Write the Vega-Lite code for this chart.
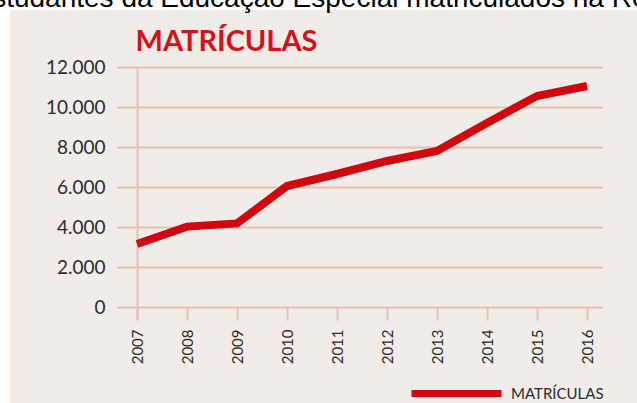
{
  "$schema": "https://vega.github.io/schema/vega-lite/v6.json",
  "width": 627,
  "height": 393,
  "autosize": {"type": "none"},
  "padding": {"left": 10, "top": 10, "right": 0, "bottom": 0},
  "background": "white",
  "config": {
    "view": {"fill": "#f1ece8", "stroke": null},
    "font": "Lato"
  },
  "data": {
    "values": [
      {"ano": 2007, "matriculas": 3150, "serie": "MATRÍCULAS"},
      {"ano": 2008, "matriculas": 4020, "serie": "MATRÍCULAS"},
      {"ano": 2009, "matriculas": 4180, "serie": "MATRÍCULAS"},
      {"ano": 2010, "matriculas": 6050, "serie": "MATRÍCULAS"},
      {"ano": 2011, "matriculas": 6650, "serie": "MATRÍCULAS"},
      {"ano": 2012, "matriculas": 7300, "serie": "MATRÍCULAS"},
      {"ano": 2013, "matriculas": 7800, "serie": "MATRÍCULAS"},
      {"ano": 2014, "matriculas": 9200, "serie": "MATRÍCULAS"},
      {"ano": 2015, "matriculas": 10550, "serie": "MATRÍCULAS"},
      {"ano": 2016, "matriculas": 11050, "serie": "MATRÍCULAS"}
    ]
  },
  "layer": [
    {
      "mark": {"type": "line", "strokeWidth": 8, "strokeCap": "butt", "strokeJoin": "miter"},
      "encoding": {
        "x": {
          "field": "ano",
          "type": "quantitative",
          "scale": {"domain": [2004.46, 2017.0], "nice": false, "zero": false},
          "axis": {
            "orient": "bottom",
            "offset": -96,
            "values": [2007, 2008, 2009, 2010, 2011, 2012, 2013, 2014, 2015, 2016],
            "format": "d",
            "labelAngle": -90,
            "labelAlign": "right",
            "labelBaseline": "middle",
            "labelPadding": 9,
            "labelFont": "Lato",
            "labelFontSize": 15,
            "labelColor": "#2b2b2b",
            "tickSize": 13,
            "tickWidth": 2,
            "tickColor": "#eac0b0",
            "domain": false,
            "grid": false,
            "title": null,
            "zindex": 0
          }
        },
        "y": {
          "field": "matriculas",
          "type": "quantitative",
          "scale": {"domain": [-4800, 14850], "nice": false, "zero": false},
          "axis": {
            "orient": "left",
            "offset": -592,
            "values": [0, 2000, 4000, 6000, 8000, 10000, 12000],
            "labelExpr": "replace(format(datum.value, ','), ',', '.')",
            "labelPadding": 12,
            "labelFont": "Lato",
            "labelFontSize": 19,
            "labelColor": "#2b2b2b",
            "tickSize": 485,
            "tickWidth": 2,
            "tickColor": "#eac0b0",
            "domain": false,
            "grid": false,
            "title": "Estudantes da Educação Especial matriculados na Rede Municipal",
            "titleX": -629,
            "titleY": -4,
            "titleAngle": 0,
            "titleAlign": "left",
            "titleBaseline": "alphabetic",
            "titleFont": "Liberation Sans",
            "titleFontSize": 28,
            "titleFontWeight": "normal",
            "titleColor": "#000000",
            "zindex": 0
          }
        },
        "color": {
          "field": "serie",
          "type": "nominal",
          "scale": {"domain": ["MATRÍCULAS"], "range": ["#d1060f"]},
          "legend": {
            "orient": "none",
            "legendX": 398,
            "legendY": 335,
            "title": null,
            "padding": 0,
            "symbolType": "stroke",
            "symbolSize": 8100,
            "symbolStrokeWidth": 7,
            "labelFont": "Lato",
            "labelFontSize": 15,
            "labelColor": "#2b2b2b",
            "labelOffset": 6
          }
        }
      }
    },
    {
      "mark": {"type": "point", "opacity": 0},
      "encoding": {
        "x": {
          "field": "ano",
          "type": "quantitative",
          "axis": {
            "orient": "top",
            "offset": -57,
            "values": [2007],
            "labels": false,
            "tickSize": -252,
            "tickWidth": 2,
            "tickColor": "#eac0b0",
            "domain": false,
            "grid": false,
            "title": "MATRÍCULAS",
            "titleX": 125,
            "titleY": -17,
            "titleAngle": 0,
            "titleAlign": "left",
            "titleBaseline": "alphabetic",
            "titleFont": "Lato",
            "titleFontSize": 29,
            "titleFontWeight": "bold",
            "titleColor": "#d5121b",
            "zindex": 0
          }
        },
        "y": {"field": "matriculas", "type": "quantitative"}
      }
    }
  ]
}
